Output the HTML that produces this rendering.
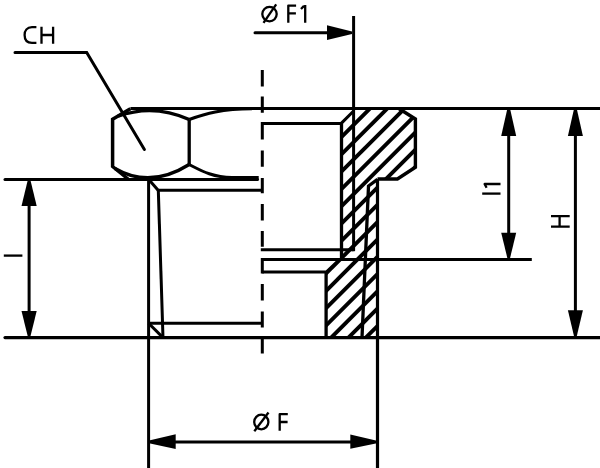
<!DOCTYPE html>
<html><head><meta charset="utf-8"><style>
html,body{margin:0;padding:0;background:#fff;}
svg{display:block;}
</style></head><body>
<svg width="600" height="468" viewBox="0 0 600 468">
<defs>
<clipPath id="hc"><polygon points="341.5,123.4 353.6,111.5 353.6,108.5 398.8,108.5 415.4,119 415.4,167.3 397.4,179 377,179 377,338 326.1,338 326.1,271.7 339.4,259.5 341.5,259.5"/></clipPath>
</defs>
<rect width="600" height="468" fill="#fff"/>
<g fill="none" stroke="#000" stroke-width="3" stroke-linecap="butt" stroke-linejoin="miter">
<g clip-path="url(#hc)" stroke-width="3.9">
<line x1="300" y1="74.70" x2="440" y2="-65.30"/>
<line x1="300" y1="92.00" x2="440" y2="-48.00"/>
<line x1="300" y1="109.30" x2="440" y2="-30.70"/>
<line x1="300" y1="126.60" x2="440" y2="-13.40"/>
<line x1="300" y1="143.90" x2="440" y2="3.90"/>
<line x1="300" y1="161.20" x2="440" y2="21.20"/>
<line x1="300" y1="178.50" x2="440" y2="38.50"/>
<line x1="300" y1="195.80" x2="440" y2="55.80"/>
<line x1="300" y1="213.10" x2="440" y2="73.10"/>
<line x1="300" y1="230.40" x2="440" y2="90.40"/>
<line x1="300" y1="247.70" x2="440" y2="107.70"/>
<line x1="300" y1="265.00" x2="440" y2="125.00"/>
<line x1="300" y1="282.30" x2="440" y2="142.30"/>
<line x1="300" y1="299.60" x2="440" y2="159.60"/>
<line x1="300" y1="316.90" x2="440" y2="176.90"/>
<line x1="300" y1="334.20" x2="440" y2="194.20"/>
<line x1="300" y1="351.50" x2="440" y2="211.50"/>
<line x1="300" y1="368.80" x2="440" y2="228.80"/>
<line x1="300" y1="386.10" x2="440" y2="246.10"/>
<line x1="300" y1="403.40" x2="440" y2="263.40"/>
<line x1="300" y1="420.70" x2="440" y2="280.70"/>
<line x1="300" y1="438.00" x2="440" y2="298.00"/>
<line x1="300" y1="455.30" x2="440" y2="315.30"/>
<line x1="300" y1="472.60" x2="440" y2="332.60"/>
<line x1="300" y1="489.90" x2="440" y2="349.90"/>
<line x1="300" y1="507.20" x2="440" y2="367.20"/>
</g>
<polyline points="15,52.5 86.7,52.5 144.4,149.5" stroke-linecap="round"/>
<line x1="255" y1="32.7" x2="330" y2="32.7" stroke-linecap="round"/>
<line x1="353.6" y1="16" x2="353.6" y2="251.2"/>
<path d="M262.3,70 V86.6 M262.3,96.5 V112.7 M262.3,121.9 V139.6 M262.3,150.4 V166.8 M262.3,178 V193.3 M262.3,204 V220.4 M262.3,230.9 V246.8 M262.3,258.1 V273.6 M262.3,284.1 V300.6 M262.3,311.6 V327.6 M262.3,337.5 V353.5"/>
<line x1="130.4" y1="108.5" x2="600" y2="108.5"/>
<line x1="5" y1="179.5" x2="257.5" y2="179.5" stroke-linecap="round"/>
<line x1="5" y1="337.6" x2="602" y2="337.6" stroke-linecap="round" stroke-width="3.2"/>
<line x1="262.3" y1="259.6" x2="531.8" y2="259.6"/>
<line x1="29.1" y1="195" x2="29.1" y2="325"/>
<line x1="508.7" y1="125" x2="508.7" y2="245"/>
<line x1="575.4" y1="125" x2="575.4" y2="320"/>
<line x1="148.6" y1="179.5" x2="148.6" y2="468"/>
<line x1="377.5" y1="179" x2="377.5" y2="468" stroke-width="3.2"/>
<line x1="165" y1="442" x2="360" y2="442"/>
<polyline points="130.4,108.8 112.6,119.3 112.6,166.5 128,179" stroke-width="3.5"/>
<line x1="189.2" y1="119.5" x2="189.2" y2="164.5" stroke-width="3.3"/>
<path d="M118,116.2 Q153.5,103.5 189.2,119.5" stroke-width="3.4"/>
<path d="M115,168.5 Q150,189 189.2,164.5" stroke-width="3.4"/>
<path d="M189.2,119.5 C205,114 222,108.8 252,108.8"/>
<path d="M189.2,164.5 C200,170 212,177.4 232,177.6 H258.7"/>
<line x1="148.6" y1="179.3" x2="158.1" y2="190.2"/>
<line x1="158.1" y1="190.2" x2="262.3" y2="190.2"/>
<line x1="158.3" y1="190" x2="163" y2="337.8"/>
<line x1="262.3" y1="323.3" x2="148.6" y2="323.3"/>
<line x1="148.6" y1="323.3" x2="163" y2="337.6"/>
<polyline points="262.3,123.4 341.2,123.4 353.6,111"/>
<line x1="341.5" y1="123.4" x2="341.5" y2="259.6" stroke-width="3.3"/>
<line x1="260.8" y1="249.8" x2="353.6" y2="249.8"/>
<polyline points="262.3,272.1 326.3,272.1 339.4,259.6"/>
<line x1="326.1" y1="272.1" x2="326.1" y2="337.8" stroke-width="3.3"/>
<polyline points="377.5,179.4 368.5,186 362,337.8" stroke-width="3.3"/>
<polyline points="377.5,179 397.4,179 415.4,167.3 415.4,119 398.8,108.5" stroke-width="3.4"/>
</g>
<g fill="#000" stroke="none">
<polygon points="352,31.4 352,34 327,40.1 327,25.3"/>
<polygon points="27.8,180 30.4,180 36.7,206.1 21.5,206.1"/>
<polygon points="27.8,336.5 30.4,336.5 36.7,311.1 21.5,311.1"/>
<polygon points="507.4,108.5 510,108.5 516.2,135.9 501.2,135.9"/>
<polygon points="507.4,258.3 510,258.3 516.2,232.7 501.2,232.7"/>
<polygon points="574.1,108.5 576.7,108.5 582.9,135.9 567.9,135.9"/>
<polygon points="574.1,336.6 576.7,336.6 582.9,310.3 567.9,310.3"/>
<polygon points="149,440.6 149,443.2 175.7,448.9 175.7,434.3"/>
<polygon points="377,440.7 377,443.3 350.3,448.7 350.3,434.4"/>
</g>
<g fill="none" stroke="#000" stroke-width="2.3" stroke-linejoin="round">
<path d="M36.4,27.2 H32 C27,27.2 24.6,30.6 24.6,35 C24.6,39.6 27,42.9 32,42.9 H36.4" stroke-linejoin="round"/>
<path d="M41.5,26.7 V43.8 M53.1,26.7 V43.8 M41.5,35 H53.1"/>
<ellipse cx="269.5" cy="14.1" rx="7.2" ry="7.3"/>
<line x1="263.5" y1="22.8" x2="276.2" y2="4.4"/>
<path d="M296.1,5.6 H288.3 V22.7 M288.3,13.3 H295.9"/>
<path d="M301,9 L304,5.9 M305.2,5.1 V22.7"/>
<ellipse cx="261.3" cy="422" rx="7.1" ry="7.3"/>
<line x1="254.3" y1="431.3" x2="268.5" y2="412.5"/>
<path d="M287.8,414.2 H279.7 V430.7 M279.7,422 H287.6"/>
<line x1="3.8" y1="255.6" x2="22.4" y2="255.6"/>
<line x1="482.2" y1="193.6" x2="500.5" y2="193.6"/>
<path d="M486.6,187.8 L484.6,184 H500.5"/>
<path d="M551,216.2 H569.7 M551,226.6 H569.7 M559.6,216.2 V226.6"/>
</g>
</svg>
</body></html>
